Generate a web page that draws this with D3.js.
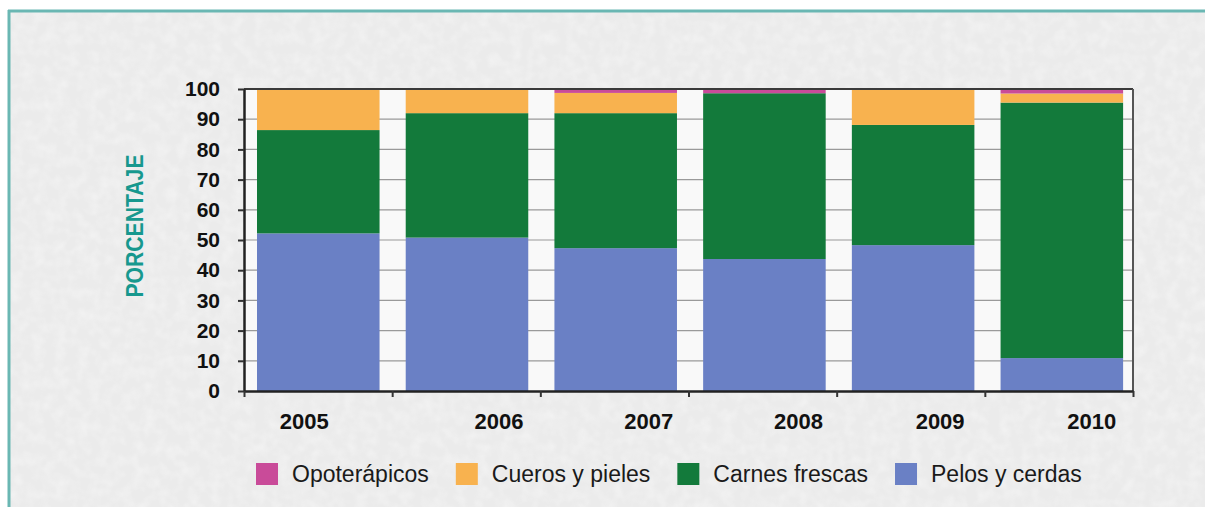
<!DOCTYPE html>
<html>
<head>
<meta charset="utf-8">
<script src="https://cdn.jsdelivr.net/npm/d3@7"></script>
<style>
  html, body { margin: 0; padding: 0; background: #ffffff; }
  svg { display: block; }
</style>
</head>
<body>
<svg id="chart" width="1205" height="507"></svg>
<script>
// ---- data ----
const years = ["2005", "2006", "2007", "2008", "2009", "2010"];
const pelos = [52.2, 50.8, 47.3, 43.7, 48.3, 10.9];          // Pelos y cerdas
const carnes = [34.2, 41.2, 44.7, 54.9, 39.8, 84.6];         // Carnes frescas
const cueros = [13.6, 8.0, 6.7, 0.0, 11.9, 3.0];             // Cueros y pieles
const opoterapicos = [0.0, 0.0, 1.3, 1.4, 0.0, 1.5];         // Opoterápicos
const seriesNames = ["Pelos y cerdas", "Carnes frescas", "Cueros y pieles", "Opoterápicos"];
const legendOrder = ["Opoterápicos", "Cueros y pieles", "Carnes frescas", "Pelos y cerdas"];
const yTicks = [0, 10, 20, 30, 40, 50, 60, 70, 80, 90, 100];
// horizontal nudge of the year labels (layout, as in the original)
const xLabelShift = [-14, 32, 33, 34, 27, 30];

const colors = {
  "Opoterápicos": "#c94b99",
  "Cueros y pieles": "#f8b24f",
  "Carnes frescas": "#137a3b",
  "Pelos y cerdas": "#6a80c5"
};

const table = years.map((yr, i) => ({
  year: yr,
  "Pelos y cerdas": pelos[i],
  "Carnes frescas": carnes[i],
  "Cueros y pieles": cueros[i],
  "Opoterápicos": opoterapicos[i]
}));

(function () {
const svg = d3.select("#chart");
const W = 1205, H = 507;

// background panel with subtle texture
const defs = svg.append("defs");
const f = defs.append("filter").attr("id", "tex").attr("x", 0).attr("y", 0).attr("width", "100%").attr("height", "100%");
f.append("feTurbulence").attr("type", "fractalNoise").attr("baseFrequency", 0.09).attr("numOctaves", 2).attr("seed", 3).attr("result", "n");
f.append("feColorMatrix").attr("in", "n").attr("type", "matrix")
  .attr("values", "0 0 0 0 1  0 0 0 0 1  0 0 0 0 1  1.2 0 0 0 -0.45");

svg.append("rect").attr("x", 0).attr("y", 0).attr("width", W).attr("height", H).attr("fill", "#ffffff");
svg.append("rect").attr("x", 9).attr("y", 11).attr("width", W - 9).attr("height", H - 11).attr("fill", "#ebebeb");
svg.append("rect").attr("x", 9).attr("y", 11).attr("width", W - 9).attr("height", H - 11)
  .attr("filter", "url(#tex)").attr("opacity", 0.55);
svg.append("line").attr("x1", 8).attr("x2", W).attr("y1", 11).attr("y2", 11)
  .attr("stroke", "#6ab7b3").attr("stroke-width", 3);
svg.append("line").attr("x1", 9).attr("x2", 9).attr("y1", 10).attr("y2", H)
  .attr("stroke", "#6ab7b3").attr("stroke-width", 3);

// ---- scales ----
const pLeft = 244, pRight = 1133, pTop = 89, pBottom = 391;
const x = d3.scaleBand().domain(years).range([pLeft, pRight])
  .paddingInner(0.176).paddingOuter(0.077).align(0.568);
const xb = d3.scaleLinear().domain([0, years.length]).range([pLeft, pRight]);
const y = d3.scaleLinear().domain([0, 100]).range([pBottom, pTop]);

// plot background
svg.append("rect").attr("x", pLeft).attr("y", pTop).attr("width", pRight - pLeft).attr("height", pBottom - pTop)
  .attr("fill", "#f9f9f9");

// gridlines
svg.append("g").selectAll("line").data(yTicks.filter(d => d > 0)).join("line")
  .attr("x1", pLeft).attr("x2", pRight)
  .attr("y1", d => y(d)).attr("y2", d => y(d))
  .attr("stroke", "#9a9a9a").attr("stroke-width", 1.2);

// stacked bars
const stack = d3.stack().keys(seriesNames);
const layers = stack(table);
svg.append("g").selectAll("g").data(layers).join("g")
  .attr("fill", d => colors[d.key])
  .selectAll("rect").data(d => d).join("rect")
  .attr("x", d => x(d.data.year))
  .attr("width", x.bandwidth())
  .attr("y", d => y(d[1]))
  .attr("height", d => Math.max(0, y(d[0]) - y(d[1])));

// frame: top and right
svg.append("line").attr("x1", pLeft).attr("x2", pRight).attr("y1", pTop).attr("y2", pTop)
  .attr("stroke", "#3a3a3a").attr("stroke-width", 2);
svg.append("line").attr("x1", pRight).attr("x2", pRight).attr("y1", pTop).attr("y2", pBottom)
  .attr("stroke", "#555").attr("stroke-width", 2);

// y axis
const yAxis = svg.append("g").attr("transform", `translate(${pLeft},0)`)
  .call(d3.axisLeft(y).tickValues(yTicks).tickSize(6).tickPadding(18).tickSizeOuter(0));
yAxis.select(".domain").attr("stroke", "#222").attr("stroke-width", 2.5);
yAxis.selectAll(".tick line").attr("stroke", "#333").attr("stroke-width", 2);
yAxis.selectAll(".tick text")
  .attr("font-family", "'Liberation Sans', Arial, sans-serif")
  .attr("font-weight", "bold").attr("font-size", 21).attr("fill", "#111");

// x axis (ticks at category boundaries)
const xAxis = svg.append("g").attr("transform", `translate(0,${pBottom})`)
  .call(d3.axisBottom(xb).tickValues(d3.range(0, years.length + 1)).tickSize(6).tickFormat("").tickSizeOuter(0));
xAxis.select(".domain").attr("stroke", "#222").attr("stroke-width", 2.5);
xAxis.selectAll(".tick line").attr("stroke", "#333").attr("stroke-width", 2);

// year labels
svg.append("g").selectAll("text").data(years).join("text")
  .attr("x", (d, i) => x(d) + x.bandwidth() / 2 + xLabelShift[i])
  .attr("y", 429)
  .attr("text-anchor", "middle")
  .attr("font-family", "'Liberation Sans', Arial, sans-serif")
  .attr("font-weight", "bold").attr("font-size", 22).attr("fill", "#111")
  .text(d => d);

// y axis title
svg.append("text")
  .attr("transform", `translate(143,226) rotate(-90)`)
  .attr("text-anchor", "middle")
  .attr("font-family", "'Liberation Sans', Arial, sans-serif")
  .attr("font-weight", "bold").attr("font-size", 23).attr("fill", "#17988e")
  .attr("textLength", 143).attr("lengthAdjust", "spacingAndGlyphs")
  .text("PORCENTAJE");

// legend
const lg = svg.append("g");
let lx = 256;
legendOrder.forEach(name => {
  lg.append("rect").attr("x", lx).attr("y", 463).attr("width", 22).attr("height", 22).attr("fill", colors[name]);
  const t = lg.append("text").attr("x", lx + 36).attr("y", 482)
    .attr("font-family", "'Liberation Sans', Arial, sans-serif")
    .attr("font-size", 23).attr("fill", "#1a1a1a").text(name);
  const w = t.node().getComputedTextLength();
  lx = lx + 36 + w + 27;
});
})();
</script>
</body>
</html>
